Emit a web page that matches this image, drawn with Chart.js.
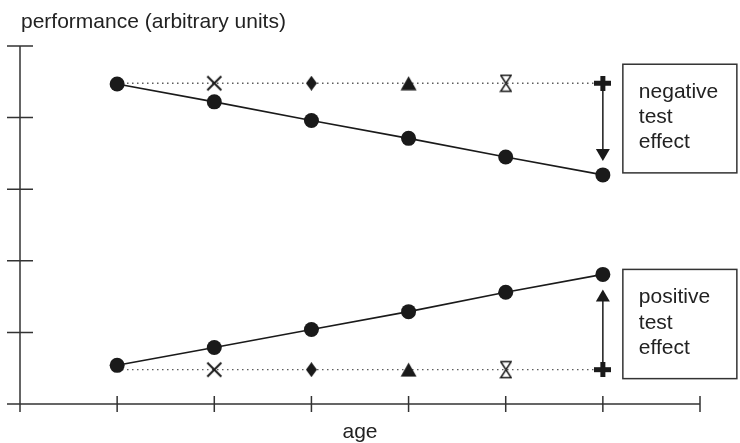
<!DOCTYPE html>
<html>
<head>
<meta charset="utf-8">
<script src="https://cdn.jsdelivr.net/npm/chart.js@4/dist/chart.umd.min.js"></script>
<style>
html,body{margin:0;padding:0;background:#fff;}
#wrap{width:740px;height:443px;position:relative;}
</style>
</head>
<body>
<div id="wrap"><canvas id="c" width="740" height="443"></canvas></div>
<script>
// ---- data ----
const ages = [1, 2, 3, 4, 5, 6];
const xTicks = [0, 1, 2, 3, 4, 5, 6, 7];
const yTicks = [0, 1, 2, 3, 4, 5];
const negativePerformance = [4.47, 4.22, 3.96, 3.71, 3.45, 3.20];
const negativeBaseline = [4.48, 4.48, 4.48, 4.48, 4.48, 4.48];
const positivePerformance = [0.54, 0.79, 1.04, 1.29, 1.56, 1.81];
const positiveBaseline = [0.48, 0.48, 0.48, 0.48, 0.48, 0.48];
const yTitle = "performance (arbitrary units)";
const xTitle = "age";
const negativeLabel = ["negative", "test", "effect"];
const positiveLabel = ["positive", "test", "effect"];

const INK = '#1a1a1a';
const FONT = '"Liberation Sans", Arial, Helvetica, sans-serif';

function mk(w, h, draw) {
  const c = document.createElement('canvas');
  c.width = w; c.height = h;
  const g = c.getContext('2d');
  draw(g, w, h);
  return c;
}
const xMark = mk(17, 17, (g, w, h) => {
  g.strokeStyle = INK; g.lineWidth = 2;
  g.beginPath(); g.moveTo(1.5, 1.5); g.lineTo(15.5, 15.5); g.moveTo(15.5, 1.5); g.lineTo(1.5, 15.5); g.stroke();
});
const diamondMark = mk(11, 15, (g, w, h) => {
  g.fillStyle = INK;
  g.beginPath(); g.moveTo(5.5, 0); g.lineTo(11, 7.5); g.lineTo(5.5, 15); g.lineTo(0, 7.5); g.closePath(); g.fill();
});
const triMark = mk(17, 15, (g, w, h) => {
  g.fillStyle = INK;
  g.beginPath(); g.moveTo(8.5, 0.5); g.lineTo(16.5, 14.5); g.lineTo(0.5, 14.5); g.closePath(); g.fill();
});
const hourMark = mk(13, 19, (g, w, h) => {
  g.strokeStyle = INK; g.lineWidth = 1.5;
  g.beginPath();
  g.moveTo(1, 1.5); g.lineTo(12, 1.5); g.lineTo(1.5, 17.5); g.lineTo(12, 17.5); g.lineTo(1.5, 1.5);
  g.stroke();
});
const plusMark = mk(17, 15, (g, w, h) => {
  g.fillStyle = INK;
  g.fillRect(0, 5, 17, 5);
  g.fillRect(6, 0, 5, 15);
});
const baselineStyles = ['circle', xMark, diamondMark, triMark, hourMark, plusMark];
const baselineRadius = [0, 8, 8, 8, 8, 8];

function pts(ys) { return ages.map((a, i) => ({x: a, y: ys[i]})); }

const decor = {
  id: 'decor',
  afterDatasetsDraw(chart) {
    const ctx = chart.ctx;
    const xs = chart.scales.x, ys = chart.scales.y;
    const X = v => xs.getPixelForValue(v);
    const Y = v => ys.getPixelForValue(v);
    ctx.save();
    // axes
    ctx.strokeStyle = '#333'; ctx.lineWidth = 1.5;
    ctx.beginPath();
    ctx.moveTo(X(0), Y(yTicks[yTicks.length - 1])); ctx.lineTo(X(0), Y(0) + 8);
    ctx.moveTo(X(0) - 13, Y(0)); ctx.lineTo(X(xTicks[xTicks.length - 1]), Y(0));
    yTicks.forEach(t => { ctx.moveTo(X(0) - 13, Y(t)); ctx.lineTo(X(0) + 13, Y(t)); });
    xTicks.forEach(t => { if (t > 0) { ctx.moveTo(X(t), Y(0) - 8); ctx.lineTo(X(t), Y(0) + 8); } });
    ctx.stroke();
    // arrows
    const lastX = X(ages[ages.length - 1]);
    function arrow(y0, y1) {
      const dir = y1 > y0 ? 1 : -1;
      ctx.strokeStyle = INK; ctx.fillStyle = INK; ctx.lineWidth = 1.5;
      ctx.beginPath(); ctx.moveTo(lastX, y0); ctx.lineTo(lastX, y1 - dir * 10); ctx.stroke();
      ctx.beginPath();
      ctx.moveTo(lastX, y1); ctx.lineTo(lastX - 7, y1 - dir * 12); ctx.lineTo(lastX + 7, y1 - dir * 12);
      ctx.closePath(); ctx.fill();
    }
    const n = ages.length - 1;
    arrow(Y(negativeBaseline[n]) + 7, Y(negativePerformance[n]) - 14);
    arrow(Y(positiveBaseline[n]) - 7, Y(positivePerformance[n]) + 15);
    // boxes
    ctx.strokeStyle = '#333'; ctx.lineWidth = 1.5;
    const bx = lastX + 20, bw = 114;
    const t1 = Y(negativeBaseline[n]) - 19, b1 = Y(negativePerformance[n]) - 2;
    const t2 = Y(positivePerformance[n]) - 5, b2 = Y(positiveBaseline[n]) + 9;
    ctx.strokeRect(bx, t1, bw, b1 - t1);
    ctx.strokeRect(bx, t2, bw, b2 - t2);
    ctx.fillStyle = '#222';
    ctx.font = '21px ' + FONT;
    ctx.textAlign = 'left'; ctx.textBaseline = 'alphabetic';
    negativeLabel.forEach((s, i) => ctx.fillText(s, bx + 16, t1 + 34 + i * 25));
    positiveLabel.forEach((s, i) => ctx.fillText(s, bx + 16, t2 + 34 + i * 25.5));
    // titles
    ctx.fillText(yTitle, 21, 28);
    ctx.textAlign = 'center';
    ctx.fillText(xTitle, (X(0) + X(xTicks[xTicks.length - 1])) / 2, 438);
    ctx.restore();
  }
};

new Chart(document.getElementById('c'), {
  type: 'line',
  data: {
    datasets: [
      { data: pts(negativePerformance), borderColor: INK, borderWidth: 1.6, pointStyle: 'circle',
        pointRadius: 7.5, pointBackgroundColor: INK, pointBorderColor: INK, pointBorderWidth: 0, order: 1 },
      { data: pts(positivePerformance), borderColor: INK, borderWidth: 1.6, pointStyle: 'circle',
        pointRadius: 7.5, pointBackgroundColor: INK, pointBorderColor: INK, pointBorderWidth: 0, order: 1 },
      { data: pts(negativeBaseline), borderColor: '#444', borderWidth: 1.3, borderDash: [1.3, 3.7],
        pointStyle: baselineStyles, pointRadius: baselineRadius, pointBackgroundColor: INK, pointBorderWidth: 0, order: 2 },
      { data: pts(positiveBaseline), borderColor: '#444', borderWidth: 1.3, borderDash: [1.3, 3.7],
        pointStyle: baselineStyles, pointRadius: baselineRadius, pointBackgroundColor: INK, pointBorderWidth: 0, order: 2 }
    ]
  },
  options: {
    responsive: false,
    devicePixelRatio: 1,
    animation: false,
    layout: { padding: { left: 20, right: 40, top: 46, bottom: 39 } },
    scales: {
      x: { type: 'linear', min: 0, max: 7, display: false },
      y: { type: 'linear', min: 0, max: 5, display: false }
    },
    plugins: { legend: { display: false }, tooltip: { enabled: false }, title: { display: false } },
    elements: { line: { tension: 0 } }
  },
  plugins: [decor]
});
</script>
</body>
</html>
